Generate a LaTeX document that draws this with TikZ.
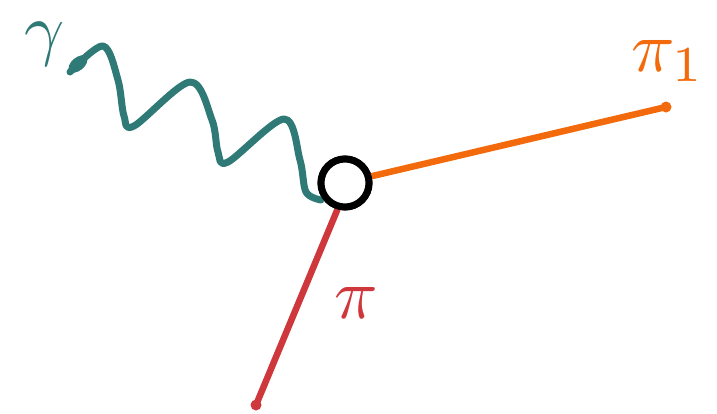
\documentclass[tikz,border=0pt]{standalone}
\usepackage{graphicx}
\begin{document}
\begin{tikzpicture}[x=1pt,y=-1pt,
  every node/.style={inner sep=0pt},
  leg/.style={line width=6.5pt,line cap=round,line join=round}]
\definecolor{tealc}{RGB}{47,122,118}
\definecolor{orangec}{RGB}{242,106,12}
\definecolor{redc}{RGB}{206,56,60}
\useasboundingbox (0,0) rectangle (717,413);
\coordinate (gs) at (70,72);
\coordinate (p1) at (666,107);
\coordinate (p0) at (256,405);
\node[circle,minimum size=48pt,draw=black,line width=7pt,fill=white] (v) at (345,183) {};
\draw[leg,orangec] (v.east) ++(0,-7) -- (p1);
\fill[orangec] (p1) circle (5.5pt);
\draw[leg,redc] (v.south) ++(-8,0) -- (p0);
\fill[redc] (p0) circle (5.5pt);
\draw[tealc,line width=7pt,line cap=round,line join=round]
  plot[smooth,tension=0.55] coordinates {(gs) (103,46) (118,80) (124,116) (134,126) (190,82) (212,120) (218,152) (228,162) (284,119) (300,160) (306,192) (321,200)};
\fill[tealc,rotate around={40:(78,64)}] (78,64) ellipse (11pt and 6.5pt);
\node[circle,minimum size=48pt,draw=black,line width=7pt,fill=white] at (v) {};
\node[text=tealc] (tg) at (45,44) {\scalebox{7}{$\gamma$}};
\node[text=orangec] (tp1) at (668,61) {\scalebox{7.2}{$\pi_1$}};
\node[text=redc] (tp) at (356,303) {\scalebox{7.2}{$\pi$}};
\end{tikzpicture}
\end{document}
